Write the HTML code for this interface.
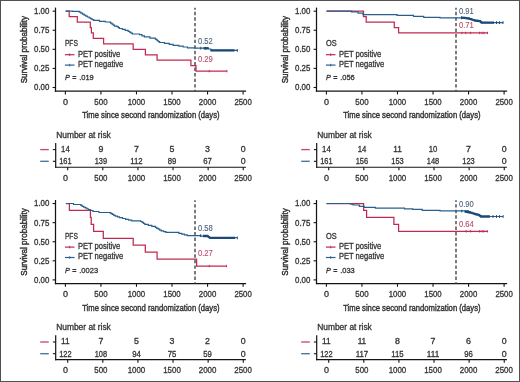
<!DOCTYPE html>
<html><head><meta charset="utf-8"><style>
html,body{margin:0;padding:0;background:#fff;}
svg{display:block;font-family:"Liberation Sans", sans-serif;}
text{stroke-width:0.3px;paint-order:stroke;}
</style></head><body>
<svg style="will-change:transform" width="520" height="382" viewBox="0 0 520 382">
<rect x="0" y="0" width="520" height="382" fill="#fff"/>
<g transform="translate(0,0)">
<line x1="55.5" y1="7.6" x2="55.5" y2="91.8" stroke="#141414" stroke-width="1.25"/>
<line x1="54.9" y1="91.2" x2="246.1" y2="91.2" stroke="#141414" stroke-width="1.25"/>
<line x1="52.6" y1="11.15" x2="55.5" y2="11.15" stroke="#141414" stroke-width="1.1"/>
<text x="49.4" y="14.05" font-size="8.4" fill="#333333" stroke="#333333" text-anchor="end" textLength="15.4" lengthAdjust="spacingAndGlyphs">1.00</text>
<line x1="52.6" y1="30.24" x2="55.5" y2="30.24" stroke="#141414" stroke-width="1.1"/>
<text x="49.4" y="33.14" font-size="8.4" fill="#333333" stroke="#333333" text-anchor="end" textLength="15.4" lengthAdjust="spacingAndGlyphs">0.75</text>
<line x1="52.6" y1="49.33" x2="55.5" y2="49.33" stroke="#141414" stroke-width="1.1"/>
<text x="49.4" y="52.23" font-size="8.4" fill="#333333" stroke="#333333" text-anchor="end" textLength="15.4" lengthAdjust="spacingAndGlyphs">0.50</text>
<line x1="52.6" y1="68.41" x2="55.5" y2="68.41" stroke="#141414" stroke-width="1.1"/>
<text x="49.4" y="71.31" font-size="8.4" fill="#333333" stroke="#333333" text-anchor="end" textLength="15.4" lengthAdjust="spacingAndGlyphs">0.25</text>
<line x1="52.6" y1="87.5" x2="55.5" y2="87.5" stroke="#141414" stroke-width="1.1"/>
<text x="49.4" y="90.4" font-size="8.4" fill="#333333" stroke="#333333" text-anchor="end" textLength="15.4" lengthAdjust="spacingAndGlyphs">0.00</text>
<line x1="65.4" y1="91.25" x2="65.4" y2="94.4" stroke="#141414" stroke-width="1.1"/>
<text x="65.4" y="104.6" font-size="8.6" fill="#333333" stroke="#333333" text-anchor="middle" textLength="5.0" lengthAdjust="spacingAndGlyphs">0</text>
<line x1="100.94" y1="91.25" x2="100.94" y2="94.4" stroke="#141414" stroke-width="1.1"/>
<text x="100.94" y="104.6" font-size="8.6" fill="#333333" stroke="#333333" text-anchor="middle" textLength="13.2" lengthAdjust="spacingAndGlyphs">500</text>
<line x1="136.48" y1="91.25" x2="136.48" y2="94.4" stroke="#141414" stroke-width="1.1"/>
<text x="136.48" y="104.6" font-size="8.6" fill="#333333" stroke="#333333" text-anchor="middle" textLength="17.4" lengthAdjust="spacingAndGlyphs">1000</text>
<line x1="172.02" y1="91.25" x2="172.02" y2="94.4" stroke="#141414" stroke-width="1.1"/>
<text x="172.02" y="104.6" font-size="8.6" fill="#333333" stroke="#333333" text-anchor="middle" textLength="17.4" lengthAdjust="spacingAndGlyphs">1500</text>
<line x1="207.56" y1="91.25" x2="207.56" y2="94.4" stroke="#141414" stroke-width="1.1"/>
<text x="207.56" y="104.6" font-size="8.6" fill="#333333" stroke="#333333" text-anchor="middle" textLength="17.4" lengthAdjust="spacingAndGlyphs">2000</text>
<line x1="243.1" y1="91.25" x2="243.1" y2="94.4" stroke="#141414" stroke-width="1.1"/>
<text x="243.1" y="104.6" font-size="8.6" fill="#333333" stroke="#333333" text-anchor="middle" textLength="17.4" lengthAdjust="spacingAndGlyphs">2500</text>
<text x="82.2" y="118.2" font-size="9.9" fill="#333333" stroke="#333333" textLength="137.4" lengthAdjust="spacingAndGlyphs" style="stroke-width:0.45px">Time since second randomization (days)</text>
<text transform="translate(27.3,83.3) rotate(-90)" font-size="9.9" fill="#333333" stroke="#333333" style="stroke-width:0.45px" textLength="67.4" lengthAdjust="spacingAndGlyphs">Survival probability</text>
<text x="64.9" y="46.2" font-size="8.3" fill="#333333" stroke="#333333" textLength="13.0" lengthAdjust="spacingAndGlyphs">PFS</text>
<line x1="64.9" y1="54.7" x2="74.5" y2="54.7" stroke="#c02a50" stroke-width="1.2"/>
<line x1="69.7" y1="53.4" x2="69.7" y2="56" stroke="#c02a50" stroke-width="0.9"/>
<text x="77.9" y="56.7" font-size="8.5" fill="#333333" stroke="#333333" textLength="42.4" lengthAdjust="spacingAndGlyphs">PET positive</text>
<line x1="64.9" y1="65.1" x2="74.5" y2="65.1" stroke="#27608f" stroke-width="1.2"/>
<line x1="69.7" y1="63.8" x2="69.7" y2="66.4" stroke="#27608f" stroke-width="0.9"/>
<text x="77.9" y="66.8" font-size="8.5" fill="#333333" stroke="#333333" textLength="45.3" lengthAdjust="spacingAndGlyphs">PET negative</text>
<text x="65.1" y="80.4" font-size="8.0" fill="#333333" stroke="#333333" font-style="italic" textLength="4.9" lengthAdjust="spacingAndGlyphs">P</text>
<text x="72.2" y="80.2" font-size="7.6" fill="#333333" stroke="#333333" textLength="4.2" lengthAdjust="spacingAndGlyphs">=</text>
<text x="79.2" y="80.4" font-size="8.1" fill="#333333" stroke="#333333" textLength="14.6" lengthAdjust="spacingAndGlyphs">.019</text>
<line x1="195" y1="7.8" x2="195" y2="91.2" stroke="#4a4a4a" stroke-width="1.45" stroke-dasharray="3.4 2.17" stroke-dashoffset="1.57"/>
<text x="198" y="44.2" font-size="8.4" fill="#4c627a" stroke="#4c627a" textLength="14.8" lengthAdjust="spacingAndGlyphs" style="stroke-width:0.1px">0.52</text>
<text x="198" y="62" font-size="8.4" fill="#b84a66" stroke="#b84a66" textLength="14.8" lengthAdjust="spacingAndGlyphs" style="stroke-width:0.1px">0.29</text>
</g>
<path d="M65.6,11.15L69.2,11.15L69.2,16.6L77.3,16.6L77.3,22.06L90.3,22.06L90.3,27.51L91.4,27.51L91.4,32.96L93.3,32.96L93.3,38.42L103.6,38.42L103.6,43.87L133.2,43.87L133.2,49.33L145.4,49.33L145.4,54.78L157.1,54.78L157.1,60.23L190.9,60.23L190.9,65.69L196,65.69L196,71.14L226.9,71.14" fill="none" stroke="#c02a50" stroke-width="1.25"/>
<path d="M65.6,11.15L72.6,11.15L72.6,11.4L79.3,11.4L79.3,12.2L80.9,12.2L80.9,13.17L82.5,13.17L82.5,14.13L84.1,14.13L84.1,15.1L85.77,15.1L85.77,16.05L87.45,16.05L87.45,17L89.12,17L89.12,17.95L90.8,17.95L90.8,18.9L92.25,18.9L92.25,19.65L93.7,19.65L93.7,20.4L99.5,20.4L99.5,21.3L105.3,21.3L105.3,22L109.3,22L109.3,22.2L110.62,22.2L110.62,23.18L111.95,23.18L111.95,24.15L113.27,24.15L113.27,25.12L114.6,25.12L114.6,26.1L117,26.1L117,26.7L118.2,26.7L118.2,27.6L119.4,27.6L119.4,28.5L122.3,28.5L122.3,29.43L125.2,29.43L125.2,30.37L128.1,30.37L128.1,31.3L129.53,31.3L129.53,32.2L130.97,32.2L130.97,33.1L132.4,33.1L132.4,34L139.6,34L139.6,34.7L142,34.7L142,35.8L144.4,35.8L144.4,36.9L150,36.9L150,38.2L155.3,38.2L155.3,39.1L156.38,39.1L156.38,39.95L157.45,39.95L157.45,40.8L158.53,40.8L158.53,41.65L159.6,41.65L159.6,42.5L164.4,42.5L164.4,43.45L169.2,43.45L169.2,44.4L173.1,44.4L173.1,45.4L178.8,45.4L178.8,46.2L183.15,46.2L183.15,47L187.5,47L187.5,47.8L194.2,47.8L194.2,48.1L208.5,48.1L208.5,48.3L208.5,49L210.9,49L210.9,50.3L237.3,50.3L237.3,50.4" fill="none" stroke="#27608f" stroke-width="1.2"/>
<path d="M203.5,48.3L208.5,48.3" fill="none" stroke="#1b4a78" stroke-width="2.3" stroke-linejoin="round"/>
<path d="M210.5,50.4L234.5,50.4" fill="none" stroke="#1b4a78" stroke-width="2.3" stroke-linejoin="round"/>
<line x1="209.2" y1="69.94" x2="209.2" y2="72.34" stroke="#c02a50" stroke-width="0.9"/>
<line x1="226.9" y1="69.94" x2="226.9" y2="72.34" stroke="#c02a50" stroke-width="0.9"/>
<line x1="200.8" y1="46.8" x2="200.8" y2="49.6" stroke="#1b4a78" stroke-width="1.0"/>
<line x1="205.6" y1="46.9" x2="205.6" y2="49.7" stroke="#1b4a78" stroke-width="1.0"/>
<line x1="237.3" y1="49" x2="237.3" y2="51.8" stroke="#1b4a78" stroke-width="1.0"/>
<g transform="translate(0,0)">
<text x="56.2" y="137.5" font-size="8.6" fill="#333333" stroke="#333333" textLength="54.6" lengthAdjust="spacingAndGlyphs">Number at risk</text>
<line x1="55.7" y1="142.9" x2="55.7" y2="167.8" stroke="#141414" stroke-width="1.2"/>
<line x1="55.1" y1="167.25" x2="245.9" y2="167.25" stroke="#141414" stroke-width="1.2"/>
<line x1="52.9" y1="149.6" x2="55.7" y2="149.6" stroke="#141414" stroke-width="1.1"/>
<line x1="40.2" y1="149.6" x2="48.8" y2="149.6" stroke="#c02a50" stroke-width="1.35" stroke-opacity="0.85"/>
<line x1="52.9" y1="161.3" x2="55.7" y2="161.3" stroke="#141414" stroke-width="1.1"/>
<line x1="40.2" y1="161.3" x2="48.8" y2="161.3" stroke="#27608f" stroke-width="1.35" stroke-opacity="0.85"/>
<line x1="67.7" y1="167.25" x2="67.7" y2="170.3" stroke="#141414" stroke-width="1.1"/>
<text x="65.4" y="181" font-size="8.8" fill="#333333" stroke="#333333" text-anchor="middle" textLength="5.0" lengthAdjust="spacingAndGlyphs">0</text>
<text x="65.4" y="152" font-size="8.6" fill="#333333" stroke="#333333" text-anchor="middle" textLength="8.6" lengthAdjust="spacingAndGlyphs">14</text>
<text x="65.4" y="164.2" font-size="8.6" fill="#333333" stroke="#333333" text-anchor="middle" textLength="12.4" lengthAdjust="spacingAndGlyphs">161</text>
<line x1="102.81" y1="167.25" x2="102.81" y2="170.3" stroke="#141414" stroke-width="1.1"/>
<text x="100.94" y="181" font-size="8.8" fill="#333333" stroke="#333333" text-anchor="middle" textLength="13.2" lengthAdjust="spacingAndGlyphs">500</text>
<text x="100.94" y="152" font-size="8.6" fill="#333333" stroke="#333333" text-anchor="middle" textLength="4.9" lengthAdjust="spacingAndGlyphs">9</text>
<text x="100.94" y="164.2" font-size="8.6" fill="#333333" stroke="#333333" text-anchor="middle" textLength="12.4" lengthAdjust="spacingAndGlyphs">139</text>
<line x1="137.92" y1="167.25" x2="137.92" y2="170.3" stroke="#141414" stroke-width="1.1"/>
<text x="136.48" y="181" font-size="8.8" fill="#333333" stroke="#333333" text-anchor="middle" textLength="17.6" lengthAdjust="spacingAndGlyphs">1000</text>
<text x="136.48" y="152" font-size="8.6" fill="#333333" stroke="#333333" text-anchor="middle" textLength="4.9" lengthAdjust="spacingAndGlyphs">7</text>
<text x="136.48" y="164.2" font-size="8.6" fill="#333333" stroke="#333333" text-anchor="middle" textLength="12.4" lengthAdjust="spacingAndGlyphs">112</text>
<line x1="173.03" y1="167.25" x2="173.03" y2="170.3" stroke="#141414" stroke-width="1.1"/>
<text x="172.02" y="181" font-size="8.8" fill="#333333" stroke="#333333" text-anchor="middle" textLength="17.6" lengthAdjust="spacingAndGlyphs">1500</text>
<text x="172.02" y="152" font-size="8.6" fill="#333333" stroke="#333333" text-anchor="middle" textLength="4.9" lengthAdjust="spacingAndGlyphs">5</text>
<text x="172.02" y="164.2" font-size="8.6" fill="#333333" stroke="#333333" text-anchor="middle" textLength="8.6" lengthAdjust="spacingAndGlyphs">89</text>
<line x1="208.14" y1="167.25" x2="208.14" y2="170.3" stroke="#141414" stroke-width="1.1"/>
<text x="207.56" y="181" font-size="8.8" fill="#333333" stroke="#333333" text-anchor="middle" textLength="17.6" lengthAdjust="spacingAndGlyphs">2000</text>
<text x="207.56" y="152" font-size="8.6" fill="#333333" stroke="#333333" text-anchor="middle" textLength="4.9" lengthAdjust="spacingAndGlyphs">3</text>
<text x="207.56" y="164.2" font-size="8.6" fill="#333333" stroke="#333333" text-anchor="middle" textLength="8.6" lengthAdjust="spacingAndGlyphs">67</text>
<line x1="243.25" y1="167.25" x2="243.25" y2="170.3" stroke="#141414" stroke-width="1.1"/>
<text x="243.1" y="181" font-size="8.8" fill="#333333" stroke="#333333" text-anchor="middle" textLength="17.6" lengthAdjust="spacingAndGlyphs">2500</text>
<text x="243.1" y="152" font-size="8.6" fill="#333333" stroke="#333333" text-anchor="middle" textLength="4.9" lengthAdjust="spacingAndGlyphs">0</text>
<text x="243.1" y="164.2" font-size="8.6" fill="#333333" stroke="#333333" text-anchor="middle" textLength="4.9" lengthAdjust="spacingAndGlyphs">0</text>
</g>
<g transform="translate(261,0)">
<line x1="55.5" y1="7.6" x2="55.5" y2="91.8" stroke="#141414" stroke-width="1.25"/>
<line x1="54.9" y1="91.2" x2="246.1" y2="91.2" stroke="#141414" stroke-width="1.25"/>
<line x1="52.6" y1="11.15" x2="55.5" y2="11.15" stroke="#141414" stroke-width="1.1"/>
<text x="49.4" y="14.05" font-size="8.4" fill="#333333" stroke="#333333" text-anchor="end" textLength="15.4" lengthAdjust="spacingAndGlyphs">1.00</text>
<line x1="52.6" y1="30.24" x2="55.5" y2="30.24" stroke="#141414" stroke-width="1.1"/>
<text x="49.4" y="33.14" font-size="8.4" fill="#333333" stroke="#333333" text-anchor="end" textLength="15.4" lengthAdjust="spacingAndGlyphs">0.75</text>
<line x1="52.6" y1="49.33" x2="55.5" y2="49.33" stroke="#141414" stroke-width="1.1"/>
<text x="49.4" y="52.23" font-size="8.4" fill="#333333" stroke="#333333" text-anchor="end" textLength="15.4" lengthAdjust="spacingAndGlyphs">0.50</text>
<line x1="52.6" y1="68.41" x2="55.5" y2="68.41" stroke="#141414" stroke-width="1.1"/>
<text x="49.4" y="71.31" font-size="8.4" fill="#333333" stroke="#333333" text-anchor="end" textLength="15.4" lengthAdjust="spacingAndGlyphs">0.25</text>
<line x1="52.6" y1="87.5" x2="55.5" y2="87.5" stroke="#141414" stroke-width="1.1"/>
<text x="49.4" y="90.4" font-size="8.4" fill="#333333" stroke="#333333" text-anchor="end" textLength="15.4" lengthAdjust="spacingAndGlyphs">0.00</text>
<line x1="65.4" y1="91.25" x2="65.4" y2="94.4" stroke="#141414" stroke-width="1.1"/>
<text x="65.4" y="104.6" font-size="8.6" fill="#333333" stroke="#333333" text-anchor="middle" textLength="5.0" lengthAdjust="spacingAndGlyphs">0</text>
<line x1="100.94" y1="91.25" x2="100.94" y2="94.4" stroke="#141414" stroke-width="1.1"/>
<text x="100.94" y="104.6" font-size="8.6" fill="#333333" stroke="#333333" text-anchor="middle" textLength="13.2" lengthAdjust="spacingAndGlyphs">500</text>
<line x1="136.48" y1="91.25" x2="136.48" y2="94.4" stroke="#141414" stroke-width="1.1"/>
<text x="136.48" y="104.6" font-size="8.6" fill="#333333" stroke="#333333" text-anchor="middle" textLength="17.4" lengthAdjust="spacingAndGlyphs">1000</text>
<line x1="172.02" y1="91.25" x2="172.02" y2="94.4" stroke="#141414" stroke-width="1.1"/>
<text x="172.02" y="104.6" font-size="8.6" fill="#333333" stroke="#333333" text-anchor="middle" textLength="17.4" lengthAdjust="spacingAndGlyphs">1500</text>
<line x1="207.56" y1="91.25" x2="207.56" y2="94.4" stroke="#141414" stroke-width="1.1"/>
<text x="207.56" y="104.6" font-size="8.6" fill="#333333" stroke="#333333" text-anchor="middle" textLength="17.4" lengthAdjust="spacingAndGlyphs">2000</text>
<line x1="243.1" y1="91.25" x2="243.1" y2="94.4" stroke="#141414" stroke-width="1.1"/>
<text x="243.1" y="104.6" font-size="8.6" fill="#333333" stroke="#333333" text-anchor="middle" textLength="17.4" lengthAdjust="spacingAndGlyphs">2500</text>
<text x="82.2" y="118.2" font-size="9.9" fill="#333333" stroke="#333333" textLength="137.4" lengthAdjust="spacingAndGlyphs" style="stroke-width:0.45px">Time since second randomization (days)</text>
<text transform="translate(27.3,83.3) rotate(-90)" font-size="9.9" fill="#333333" stroke="#333333" style="stroke-width:0.45px" textLength="67.4" lengthAdjust="spacingAndGlyphs">Survival probability</text>
<text x="64.9" y="46.2" font-size="8.3" fill="#333333" stroke="#333333" textLength="10.7" lengthAdjust="spacingAndGlyphs">OS</text>
<line x1="64.9" y1="54.7" x2="74.5" y2="54.7" stroke="#c02a50" stroke-width="1.2"/>
<line x1="69.7" y1="53.4" x2="69.7" y2="56" stroke="#c02a50" stroke-width="0.9"/>
<text x="77.9" y="56.7" font-size="8.5" fill="#333333" stroke="#333333" textLength="42.4" lengthAdjust="spacingAndGlyphs">PET positive</text>
<line x1="64.9" y1="65.1" x2="74.5" y2="65.1" stroke="#27608f" stroke-width="1.2"/>
<line x1="69.7" y1="63.8" x2="69.7" y2="66.4" stroke="#27608f" stroke-width="0.9"/>
<text x="77.9" y="66.8" font-size="8.5" fill="#333333" stroke="#333333" textLength="45.3" lengthAdjust="spacingAndGlyphs">PET negative</text>
<text x="65.1" y="80.4" font-size="8.0" fill="#333333" stroke="#333333" font-style="italic" textLength="4.9" lengthAdjust="spacingAndGlyphs">P</text>
<text x="72.2" y="80.2" font-size="7.6" fill="#333333" stroke="#333333" textLength="4.2" lengthAdjust="spacingAndGlyphs">=</text>
<text x="79.2" y="80.4" font-size="8.1" fill="#333333" stroke="#333333" textLength="14.6" lengthAdjust="spacingAndGlyphs">.056</text>
<line x1="195" y1="7.8" x2="195" y2="91.2" stroke="#4a4a4a" stroke-width="1.45" stroke-dasharray="3.4 2.17" stroke-dashoffset="1.57"/>
<text x="198" y="13.8" font-size="8.4" fill="#4c627a" stroke="#4c627a" textLength="14.8" lengthAdjust="spacingAndGlyphs" style="stroke-width:0.1px">0.91</text>
<text x="198" y="28.4" font-size="8.4" fill="#b84a66" stroke="#b84a66" textLength="14.8" lengthAdjust="spacingAndGlyphs" style="stroke-width:0.1px">0.71</text>
</g>
<path d="M326.5,11.15L363.5,11.15L363.5,16.6L366.2,16.6L366.2,22.06L394.3,22.06L394.3,27.51L398.6,27.51L398.6,32.96L487.9,32.96" fill="none" stroke="#c02a50" stroke-width="1.25"/>
<path d="M326.5,11.15L351.5,11.15L351.5,11.9L358,11.9L358,13.1L363,13.1L363,14.6L397.1,14.6L397.1,15.4L413.5,15.4L413.5,16.3L422,16.3L423.7,16.3L423.7,17.4L439,17.4L440,17.4L440,17.8L464.1,17.8L469.4,17.8L469.4,18.7L471.8,18.7L471.8,19.65L474.2,19.65L474.2,20.6L480,20.6L480,21.3L480.95,21.3L480.95,22L481.9,22L481.9,22.7L503,22.7" fill="none" stroke="#27608f" stroke-width="1.2"/>
<path d="M461,17.6L465,17.9L470,19L475,20.5L480,21.2L481.5,22.6L494,22.6" fill="none" stroke="#1b4a78" stroke-width="2.3" stroke-linejoin="round"/>
<line x1="461.9" y1="31.76" x2="461.9" y2="34.16" stroke="#c02a50" stroke-width="0.9"/>
<line x1="465.8" y1="31.76" x2="465.8" y2="34.16" stroke="#c02a50" stroke-width="0.9"/>
<line x1="470.6" y1="31.76" x2="470.6" y2="34.16" stroke="#c02a50" stroke-width="0.9"/>
<line x1="479.6" y1="31.76" x2="479.6" y2="34.16" stroke="#c02a50" stroke-width="0.9"/>
<line x1="482" y1="31.76" x2="482" y2="34.16" stroke="#c02a50" stroke-width="0.9"/>
<line x1="484" y1="31.76" x2="484" y2="34.16" stroke="#c02a50" stroke-width="0.9"/>
<line x1="487.5" y1="31.76" x2="487.5" y2="34.16" stroke="#c02a50" stroke-width="0.9"/>
<line x1="461.5" y1="16.4" x2="461.5" y2="19.2" stroke="#1b4a78" stroke-width="1.0"/>
<line x1="496.5" y1="21.2" x2="496.5" y2="24" stroke="#1b4a78" stroke-width="1.0"/>
<line x1="499.5" y1="21.2" x2="499.5" y2="24" stroke="#1b4a78" stroke-width="1.0"/>
<line x1="503" y1="21.2" x2="503" y2="24" stroke="#1b4a78" stroke-width="1.0"/>
<g transform="translate(261,0)">
<text x="56.2" y="137.5" font-size="8.6" fill="#333333" stroke="#333333" textLength="54.6" lengthAdjust="spacingAndGlyphs">Number at risk</text>
<line x1="55.7" y1="142.9" x2="55.7" y2="167.8" stroke="#141414" stroke-width="1.2"/>
<line x1="55.1" y1="167.25" x2="245.9" y2="167.25" stroke="#141414" stroke-width="1.2"/>
<line x1="52.9" y1="149.6" x2="55.7" y2="149.6" stroke="#141414" stroke-width="1.1"/>
<line x1="40.2" y1="149.6" x2="48.8" y2="149.6" stroke="#c02a50" stroke-width="1.35" stroke-opacity="0.85"/>
<line x1="52.9" y1="161.3" x2="55.7" y2="161.3" stroke="#141414" stroke-width="1.1"/>
<line x1="40.2" y1="161.3" x2="48.8" y2="161.3" stroke="#27608f" stroke-width="1.35" stroke-opacity="0.85"/>
<line x1="67.7" y1="167.25" x2="67.7" y2="170.3" stroke="#141414" stroke-width="1.1"/>
<text x="65.4" y="181" font-size="8.8" fill="#333333" stroke="#333333" text-anchor="middle" textLength="5.0" lengthAdjust="spacingAndGlyphs">0</text>
<text x="65.4" y="152" font-size="8.6" fill="#333333" stroke="#333333" text-anchor="middle" textLength="8.6" lengthAdjust="spacingAndGlyphs">14</text>
<text x="65.4" y="164.2" font-size="8.6" fill="#333333" stroke="#333333" text-anchor="middle" textLength="12.4" lengthAdjust="spacingAndGlyphs">161</text>
<line x1="102.81" y1="167.25" x2="102.81" y2="170.3" stroke="#141414" stroke-width="1.1"/>
<text x="100.94" y="181" font-size="8.8" fill="#333333" stroke="#333333" text-anchor="middle" textLength="13.2" lengthAdjust="spacingAndGlyphs">500</text>
<text x="100.94" y="152" font-size="8.6" fill="#333333" stroke="#333333" text-anchor="middle" textLength="8.6" lengthAdjust="spacingAndGlyphs">14</text>
<text x="100.94" y="164.2" font-size="8.6" fill="#333333" stroke="#333333" text-anchor="middle" textLength="12.4" lengthAdjust="spacingAndGlyphs">156</text>
<line x1="137.92" y1="167.25" x2="137.92" y2="170.3" stroke="#141414" stroke-width="1.1"/>
<text x="136.48" y="181" font-size="8.8" fill="#333333" stroke="#333333" text-anchor="middle" textLength="17.6" lengthAdjust="spacingAndGlyphs">1000</text>
<text x="136.48" y="152" font-size="8.6" fill="#333333" stroke="#333333" text-anchor="middle" textLength="8.6" lengthAdjust="spacingAndGlyphs">11</text>
<text x="136.48" y="164.2" font-size="8.6" fill="#333333" stroke="#333333" text-anchor="middle" textLength="12.4" lengthAdjust="spacingAndGlyphs">153</text>
<line x1="173.03" y1="167.25" x2="173.03" y2="170.3" stroke="#141414" stroke-width="1.1"/>
<text x="172.02" y="181" font-size="8.8" fill="#333333" stroke="#333333" text-anchor="middle" textLength="17.6" lengthAdjust="spacingAndGlyphs">1500</text>
<text x="172.02" y="152" font-size="8.6" fill="#333333" stroke="#333333" text-anchor="middle" textLength="8.6" lengthAdjust="spacingAndGlyphs">10</text>
<text x="172.02" y="164.2" font-size="8.6" fill="#333333" stroke="#333333" text-anchor="middle" textLength="12.4" lengthAdjust="spacingAndGlyphs">148</text>
<line x1="208.14" y1="167.25" x2="208.14" y2="170.3" stroke="#141414" stroke-width="1.1"/>
<text x="207.56" y="181" font-size="8.8" fill="#333333" stroke="#333333" text-anchor="middle" textLength="17.6" lengthAdjust="spacingAndGlyphs">2000</text>
<text x="207.56" y="152" font-size="8.6" fill="#333333" stroke="#333333" text-anchor="middle" textLength="4.9" lengthAdjust="spacingAndGlyphs">7</text>
<text x="207.56" y="164.2" font-size="8.6" fill="#333333" stroke="#333333" text-anchor="middle" textLength="12.4" lengthAdjust="spacingAndGlyphs">123</text>
<line x1="243.25" y1="167.25" x2="243.25" y2="170.3" stroke="#141414" stroke-width="1.1"/>
<text x="243.1" y="181" font-size="8.8" fill="#333333" stroke="#333333" text-anchor="middle" textLength="17.6" lengthAdjust="spacingAndGlyphs">2500</text>
<text x="243.1" y="152" font-size="8.6" fill="#333333" stroke="#333333" text-anchor="middle" textLength="4.9" lengthAdjust="spacingAndGlyphs">0</text>
<text x="243.1" y="164.2" font-size="8.6" fill="#333333" stroke="#333333" text-anchor="middle" textLength="4.9" lengthAdjust="spacingAndGlyphs">0</text>
</g>
<g transform="translate(0,192.4)">
<line x1="55.5" y1="7.6" x2="55.5" y2="91.8" stroke="#141414" stroke-width="1.25"/>
<line x1="54.9" y1="91.2" x2="246.1" y2="91.2" stroke="#141414" stroke-width="1.25"/>
<line x1="52.6" y1="11.15" x2="55.5" y2="11.15" stroke="#141414" stroke-width="1.1"/>
<text x="49.4" y="14.05" font-size="8.4" fill="#333333" stroke="#333333" text-anchor="end" textLength="15.4" lengthAdjust="spacingAndGlyphs">1.00</text>
<line x1="52.6" y1="30.24" x2="55.5" y2="30.24" stroke="#141414" stroke-width="1.1"/>
<text x="49.4" y="33.14" font-size="8.4" fill="#333333" stroke="#333333" text-anchor="end" textLength="15.4" lengthAdjust="spacingAndGlyphs">0.75</text>
<line x1="52.6" y1="49.33" x2="55.5" y2="49.33" stroke="#141414" stroke-width="1.1"/>
<text x="49.4" y="52.23" font-size="8.4" fill="#333333" stroke="#333333" text-anchor="end" textLength="15.4" lengthAdjust="spacingAndGlyphs">0.50</text>
<line x1="52.6" y1="68.41" x2="55.5" y2="68.41" stroke="#141414" stroke-width="1.1"/>
<text x="49.4" y="71.31" font-size="8.4" fill="#333333" stroke="#333333" text-anchor="end" textLength="15.4" lengthAdjust="spacingAndGlyphs">0.25</text>
<line x1="52.6" y1="87.5" x2="55.5" y2="87.5" stroke="#141414" stroke-width="1.1"/>
<text x="49.4" y="90.4" font-size="8.4" fill="#333333" stroke="#333333" text-anchor="end" textLength="15.4" lengthAdjust="spacingAndGlyphs">0.00</text>
<line x1="65.4" y1="91.25" x2="65.4" y2="94.4" stroke="#141414" stroke-width="1.1"/>
<text x="65.4" y="104.6" font-size="8.6" fill="#333333" stroke="#333333" text-anchor="middle" textLength="5.0" lengthAdjust="spacingAndGlyphs">0</text>
<line x1="100.94" y1="91.25" x2="100.94" y2="94.4" stroke="#141414" stroke-width="1.1"/>
<text x="100.94" y="104.6" font-size="8.6" fill="#333333" stroke="#333333" text-anchor="middle" textLength="13.2" lengthAdjust="spacingAndGlyphs">500</text>
<line x1="136.48" y1="91.25" x2="136.48" y2="94.4" stroke="#141414" stroke-width="1.1"/>
<text x="136.48" y="104.6" font-size="8.6" fill="#333333" stroke="#333333" text-anchor="middle" textLength="17.4" lengthAdjust="spacingAndGlyphs">1000</text>
<line x1="172.02" y1="91.25" x2="172.02" y2="94.4" stroke="#141414" stroke-width="1.1"/>
<text x="172.02" y="104.6" font-size="8.6" fill="#333333" stroke="#333333" text-anchor="middle" textLength="17.4" lengthAdjust="spacingAndGlyphs">1500</text>
<line x1="207.56" y1="91.25" x2="207.56" y2="94.4" stroke="#141414" stroke-width="1.1"/>
<text x="207.56" y="104.6" font-size="8.6" fill="#333333" stroke="#333333" text-anchor="middle" textLength="17.4" lengthAdjust="spacingAndGlyphs">2000</text>
<line x1="243.1" y1="91.25" x2="243.1" y2="94.4" stroke="#141414" stroke-width="1.1"/>
<text x="243.1" y="104.6" font-size="8.6" fill="#333333" stroke="#333333" text-anchor="middle" textLength="17.4" lengthAdjust="spacingAndGlyphs">2500</text>
<text x="82.2" y="118.2" font-size="9.9" fill="#333333" stroke="#333333" textLength="137.4" lengthAdjust="spacingAndGlyphs" style="stroke-width:0.45px">Time since second randomization (days)</text>
<text transform="translate(27.3,83.3) rotate(-90)" font-size="9.9" fill="#333333" stroke="#333333" style="stroke-width:0.45px" textLength="67.4" lengthAdjust="spacingAndGlyphs">Survival probability</text>
<text x="64.9" y="46.2" font-size="8.3" fill="#333333" stroke="#333333" textLength="13.0" lengthAdjust="spacingAndGlyphs">PFS</text>
<line x1="64.9" y1="54.7" x2="74.5" y2="54.7" stroke="#c02a50" stroke-width="1.2"/>
<line x1="69.7" y1="53.4" x2="69.7" y2="56" stroke="#c02a50" stroke-width="0.9"/>
<text x="77.9" y="56.7" font-size="8.5" fill="#333333" stroke="#333333" textLength="42.4" lengthAdjust="spacingAndGlyphs">PET positive</text>
<line x1="64.9" y1="65.1" x2="74.5" y2="65.1" stroke="#27608f" stroke-width="1.2"/>
<line x1="69.7" y1="63.8" x2="69.7" y2="66.4" stroke="#27608f" stroke-width="0.9"/>
<text x="77.9" y="66.8" font-size="8.5" fill="#333333" stroke="#333333" textLength="45.3" lengthAdjust="spacingAndGlyphs">PET negative</text>
<text x="65.1" y="80.4" font-size="8.0" fill="#333333" stroke="#333333" font-style="italic" textLength="4.9" lengthAdjust="spacingAndGlyphs">P</text>
<text x="72.2" y="80.2" font-size="7.6" fill="#333333" stroke="#333333" textLength="4.2" lengthAdjust="spacingAndGlyphs">=</text>
<text x="79.2" y="80.4" font-size="8.1" fill="#333333" stroke="#333333" textLength="18.9" lengthAdjust="spacingAndGlyphs">.0023</text>
<line x1="195" y1="7.8" x2="195" y2="91.2" stroke="#4a4a4a" stroke-width="1.45" stroke-dasharray="3.4 2.17" stroke-dashoffset="1.57"/>
<text x="198" y="38.5" font-size="8.4" fill="#4c627a" stroke="#4c627a" textLength="14.8" lengthAdjust="spacingAndGlyphs" style="stroke-width:0.1px">0.58</text>
<text x="198" y="63.2" font-size="8.4" fill="#b84a66" stroke="#b84a66" textLength="14.8" lengthAdjust="spacingAndGlyphs" style="stroke-width:0.1px">0.27</text>
</g>
<path d="M65.9,203.55L69.4,203.55L69.4,210.49L90.4,210.49L90.4,217.43L91.2,217.43L91.2,224.37L93.6,224.37L93.6,231.31L103.3,231.31L103.3,238.25L133.2,238.25L133.2,245.2L145.3,245.2L145.3,252.14L157.1,252.14L157.1,259.08L196.6,259.08L196.6,266.02L226.5,266.02" fill="none" stroke="#c02a50" stroke-width="1.25"/>
<path d="M65.9,203.5L73,203.5L73.5,203.5L73.5,204.5L79.5,204.5L80.87,204.5L80.87,205.4L82.23,205.4L82.23,206.3L83.6,206.3L83.6,207.2L85.17,207.2L85.17,207.97L86.73,207.97L86.73,208.73L88.3,208.73L88.3,209.5L90.65,209.5L90.65,210.5L93,210.5L93,211.5L98.9,211.5L98.9,212.5L109.4,212.5L109.4,212.7L110.88,212.7L110.88,213.57L112.35,213.57L112.35,214.45L113.83,214.45L113.83,215.32L115.3,215.32L115.3,216.2L117.4,216.2L117.4,216.95L119.5,216.95L119.5,217.7L122.58,217.7L122.58,218.5L125.65,218.5L125.65,219.3L128.73,219.3L128.73,220.1L131.8,220.1L131.8,220.9L140.7,220.9L140.7,221.5L142.07,221.5L142.07,222.47L143.43,222.47L143.43,223.43L144.8,223.43L144.8,224.4L148.3,224.4L148.3,225.4L151.8,225.4L151.8,226.4L155.3,226.4L155.3,227.4L156.78,227.4L156.78,228.28L158.25,228.28L158.25,229.15L159.72,229.15L159.72,230.03L161.2,230.03L161.2,230.9L163.55,230.9L163.55,231.65L165.9,231.65L165.9,232.4L178.9,232.4L178.9,233.3L181.67,233.3L181.67,234.07L184.43,234.07L184.43,234.83L187.2,234.83L187.2,235.6L200.3,235.6L200.5,235.6L200.5,236.2L207,236.2L208.1,236.2L208.1,236.95L209.2,236.95L209.2,237.7L236.9,237.7" fill="none" stroke="#27608f" stroke-width="1.2"/>
<path d="M203,236L207.8,236L210,237.9L235,237.9" fill="none" stroke="#1b4a78" stroke-width="2.3" stroke-linejoin="round"/>
<line x1="209.3" y1="264.82" x2="209.3" y2="267.22" stroke="#c02a50" stroke-width="0.9"/>
<line x1="226.5" y1="264.82" x2="226.5" y2="267.22" stroke="#c02a50" stroke-width="0.9"/>
<line x1="200.7" y1="234.2" x2="200.7" y2="237" stroke="#1b4a78" stroke-width="1.0"/>
<line x1="237.3" y1="236.5" x2="237.3" y2="239.3" stroke="#1b4a78" stroke-width="1.0"/>
<g transform="translate(0,192.4)">
<text x="56.2" y="137.5" font-size="8.6" fill="#333333" stroke="#333333" textLength="54.6" lengthAdjust="spacingAndGlyphs">Number at risk</text>
<line x1="55.7" y1="142.9" x2="55.7" y2="167.8" stroke="#141414" stroke-width="1.2"/>
<line x1="55.1" y1="167.25" x2="245.9" y2="167.25" stroke="#141414" stroke-width="1.2"/>
<line x1="52.9" y1="149.6" x2="55.7" y2="149.6" stroke="#141414" stroke-width="1.1"/>
<line x1="40.2" y1="149.6" x2="48.8" y2="149.6" stroke="#c02a50" stroke-width="1.35" stroke-opacity="0.85"/>
<line x1="52.9" y1="161.3" x2="55.7" y2="161.3" stroke="#141414" stroke-width="1.1"/>
<line x1="40.2" y1="161.3" x2="48.8" y2="161.3" stroke="#27608f" stroke-width="1.35" stroke-opacity="0.85"/>
<line x1="67.7" y1="167.25" x2="67.7" y2="170.3" stroke="#141414" stroke-width="1.1"/>
<text x="65.4" y="181" font-size="8.8" fill="#333333" stroke="#333333" text-anchor="middle" textLength="5.0" lengthAdjust="spacingAndGlyphs">0</text>
<text x="65.4" y="152" font-size="8.6" fill="#333333" stroke="#333333" text-anchor="middle" textLength="8.6" lengthAdjust="spacingAndGlyphs">11</text>
<text x="65.4" y="164.2" font-size="8.6" fill="#333333" stroke="#333333" text-anchor="middle" textLength="12.4" lengthAdjust="spacingAndGlyphs">122</text>
<line x1="102.81" y1="167.25" x2="102.81" y2="170.3" stroke="#141414" stroke-width="1.1"/>
<text x="100.94" y="181" font-size="8.8" fill="#333333" stroke="#333333" text-anchor="middle" textLength="13.2" lengthAdjust="spacingAndGlyphs">500</text>
<text x="100.94" y="152" font-size="8.6" fill="#333333" stroke="#333333" text-anchor="middle" textLength="4.9" lengthAdjust="spacingAndGlyphs">7</text>
<text x="100.94" y="164.2" font-size="8.6" fill="#333333" stroke="#333333" text-anchor="middle" textLength="12.4" lengthAdjust="spacingAndGlyphs">108</text>
<line x1="137.92" y1="167.25" x2="137.92" y2="170.3" stroke="#141414" stroke-width="1.1"/>
<text x="136.48" y="181" font-size="8.8" fill="#333333" stroke="#333333" text-anchor="middle" textLength="17.6" lengthAdjust="spacingAndGlyphs">1000</text>
<text x="136.48" y="152" font-size="8.6" fill="#333333" stroke="#333333" text-anchor="middle" textLength="4.9" lengthAdjust="spacingAndGlyphs">5</text>
<text x="136.48" y="164.2" font-size="8.6" fill="#333333" stroke="#333333" text-anchor="middle" textLength="8.6" lengthAdjust="spacingAndGlyphs">94</text>
<line x1="173.03" y1="167.25" x2="173.03" y2="170.3" stroke="#141414" stroke-width="1.1"/>
<text x="172.02" y="181" font-size="8.8" fill="#333333" stroke="#333333" text-anchor="middle" textLength="17.6" lengthAdjust="spacingAndGlyphs">1500</text>
<text x="172.02" y="152" font-size="8.6" fill="#333333" stroke="#333333" text-anchor="middle" textLength="4.9" lengthAdjust="spacingAndGlyphs">3</text>
<text x="172.02" y="164.2" font-size="8.6" fill="#333333" stroke="#333333" text-anchor="middle" textLength="8.6" lengthAdjust="spacingAndGlyphs">75</text>
<line x1="208.14" y1="167.25" x2="208.14" y2="170.3" stroke="#141414" stroke-width="1.1"/>
<text x="207.56" y="181" font-size="8.8" fill="#333333" stroke="#333333" text-anchor="middle" textLength="17.6" lengthAdjust="spacingAndGlyphs">2000</text>
<text x="207.56" y="152" font-size="8.6" fill="#333333" stroke="#333333" text-anchor="middle" textLength="4.9" lengthAdjust="spacingAndGlyphs">2</text>
<text x="207.56" y="164.2" font-size="8.6" fill="#333333" stroke="#333333" text-anchor="middle" textLength="8.6" lengthAdjust="spacingAndGlyphs">59</text>
<line x1="243.25" y1="167.25" x2="243.25" y2="170.3" stroke="#141414" stroke-width="1.1"/>
<text x="243.1" y="181" font-size="8.8" fill="#333333" stroke="#333333" text-anchor="middle" textLength="17.6" lengthAdjust="spacingAndGlyphs">2500</text>
<text x="243.1" y="152" font-size="8.6" fill="#333333" stroke="#333333" text-anchor="middle" textLength="4.9" lengthAdjust="spacingAndGlyphs">0</text>
<text x="243.1" y="164.2" font-size="8.6" fill="#333333" stroke="#333333" text-anchor="middle" textLength="4.9" lengthAdjust="spacingAndGlyphs">0</text>
</g>
<g transform="translate(261,192.4)">
<line x1="55.5" y1="7.6" x2="55.5" y2="91.8" stroke="#141414" stroke-width="1.25"/>
<line x1="54.9" y1="91.2" x2="246.1" y2="91.2" stroke="#141414" stroke-width="1.25"/>
<line x1="52.6" y1="11.15" x2="55.5" y2="11.15" stroke="#141414" stroke-width="1.1"/>
<text x="49.4" y="14.05" font-size="8.4" fill="#333333" stroke="#333333" text-anchor="end" textLength="15.4" lengthAdjust="spacingAndGlyphs">1.00</text>
<line x1="52.6" y1="30.24" x2="55.5" y2="30.24" stroke="#141414" stroke-width="1.1"/>
<text x="49.4" y="33.14" font-size="8.4" fill="#333333" stroke="#333333" text-anchor="end" textLength="15.4" lengthAdjust="spacingAndGlyphs">0.75</text>
<line x1="52.6" y1="49.33" x2="55.5" y2="49.33" stroke="#141414" stroke-width="1.1"/>
<text x="49.4" y="52.23" font-size="8.4" fill="#333333" stroke="#333333" text-anchor="end" textLength="15.4" lengthAdjust="spacingAndGlyphs">0.50</text>
<line x1="52.6" y1="68.41" x2="55.5" y2="68.41" stroke="#141414" stroke-width="1.1"/>
<text x="49.4" y="71.31" font-size="8.4" fill="#333333" stroke="#333333" text-anchor="end" textLength="15.4" lengthAdjust="spacingAndGlyphs">0.25</text>
<line x1="52.6" y1="87.5" x2="55.5" y2="87.5" stroke="#141414" stroke-width="1.1"/>
<text x="49.4" y="90.4" font-size="8.4" fill="#333333" stroke="#333333" text-anchor="end" textLength="15.4" lengthAdjust="spacingAndGlyphs">0.00</text>
<line x1="65.4" y1="91.25" x2="65.4" y2="94.4" stroke="#141414" stroke-width="1.1"/>
<text x="65.4" y="104.6" font-size="8.6" fill="#333333" stroke="#333333" text-anchor="middle" textLength="5.0" lengthAdjust="spacingAndGlyphs">0</text>
<line x1="100.94" y1="91.25" x2="100.94" y2="94.4" stroke="#141414" stroke-width="1.1"/>
<text x="100.94" y="104.6" font-size="8.6" fill="#333333" stroke="#333333" text-anchor="middle" textLength="13.2" lengthAdjust="spacingAndGlyphs">500</text>
<line x1="136.48" y1="91.25" x2="136.48" y2="94.4" stroke="#141414" stroke-width="1.1"/>
<text x="136.48" y="104.6" font-size="8.6" fill="#333333" stroke="#333333" text-anchor="middle" textLength="17.4" lengthAdjust="spacingAndGlyphs">1000</text>
<line x1="172.02" y1="91.25" x2="172.02" y2="94.4" stroke="#141414" stroke-width="1.1"/>
<text x="172.02" y="104.6" font-size="8.6" fill="#333333" stroke="#333333" text-anchor="middle" textLength="17.4" lengthAdjust="spacingAndGlyphs">1500</text>
<line x1="207.56" y1="91.25" x2="207.56" y2="94.4" stroke="#141414" stroke-width="1.1"/>
<text x="207.56" y="104.6" font-size="8.6" fill="#333333" stroke="#333333" text-anchor="middle" textLength="17.4" lengthAdjust="spacingAndGlyphs">2000</text>
<line x1="243.1" y1="91.25" x2="243.1" y2="94.4" stroke="#141414" stroke-width="1.1"/>
<text x="243.1" y="104.6" font-size="8.6" fill="#333333" stroke="#333333" text-anchor="middle" textLength="17.4" lengthAdjust="spacingAndGlyphs">2500</text>
<text x="82.2" y="118.2" font-size="9.9" fill="#333333" stroke="#333333" textLength="137.4" lengthAdjust="spacingAndGlyphs" style="stroke-width:0.45px">Time since second randomization (days)</text>
<text transform="translate(27.3,83.3) rotate(-90)" font-size="9.9" fill="#333333" stroke="#333333" style="stroke-width:0.45px" textLength="67.4" lengthAdjust="spacingAndGlyphs">Survival probability</text>
<text x="64.9" y="46.2" font-size="8.3" fill="#333333" stroke="#333333" textLength="10.7" lengthAdjust="spacingAndGlyphs">OS</text>
<line x1="64.9" y1="54.7" x2="74.5" y2="54.7" stroke="#c02a50" stroke-width="1.2"/>
<line x1="69.7" y1="53.4" x2="69.7" y2="56" stroke="#c02a50" stroke-width="0.9"/>
<text x="77.9" y="56.7" font-size="8.5" fill="#333333" stroke="#333333" textLength="42.4" lengthAdjust="spacingAndGlyphs">PET positive</text>
<line x1="64.9" y1="65.1" x2="74.5" y2="65.1" stroke="#27608f" stroke-width="1.2"/>
<line x1="69.7" y1="63.8" x2="69.7" y2="66.4" stroke="#27608f" stroke-width="0.9"/>
<text x="77.9" y="66.8" font-size="8.5" fill="#333333" stroke="#333333" textLength="45.3" lengthAdjust="spacingAndGlyphs">PET negative</text>
<text x="65.1" y="80.4" font-size="8.0" fill="#333333" stroke="#333333" font-style="italic" textLength="4.9" lengthAdjust="spacingAndGlyphs">P</text>
<text x="72.2" y="80.2" font-size="7.6" fill="#333333" stroke="#333333" textLength="4.2" lengthAdjust="spacingAndGlyphs">=</text>
<text x="79.2" y="80.4" font-size="8.1" fill="#333333" stroke="#333333" textLength="14.6" lengthAdjust="spacingAndGlyphs">.033</text>
<line x1="195" y1="7.8" x2="195" y2="91.2" stroke="#4a4a4a" stroke-width="1.45" stroke-dasharray="3.4 2.17" stroke-dashoffset="1.57"/>
<text x="198" y="14.6" font-size="8.4" fill="#4c627a" stroke="#4c627a" textLength="14.8" lengthAdjust="spacingAndGlyphs" style="stroke-width:0.1px">0.90</text>
<text x="198" y="34.6" font-size="8.4" fill="#b84a66" stroke="#b84a66" textLength="14.8" lengthAdjust="spacingAndGlyphs" style="stroke-width:0.1px">0.64</text>
</g>
<path d="M326.5,203.55L363.6,203.55L363.6,210.49L366.6,210.49L366.6,217.43L393.9,217.43L393.9,224.37L398.6,224.37L398.6,231.31L487.7,231.31" fill="none" stroke="#c02a50" stroke-width="1.25"/>
<path d="M326.5,203.5L348.3,203.5L350.65,203.5L350.65,204.25L353,204.25L353,205L358.9,205L359.2,205L359.2,205.7L359.5,205.7L359.5,206.4L363,206.4L364.2,206.4L364.2,207.4L373,207.4L375.4,207.4L375.4,208.1L404.5,208.1L404.5,208.9L412.7,208.9L412.7,209.4L422.2,209.4L422.2,210.3L439.2,210.3L439.2,210.4L440,210.4L440,210.8L462.3,210.8L468.5,210.8L468.5,211.6L470.4,211.6L470.4,212.4L472.3,212.4L472.3,213.2L474.25,213.2L474.25,213.95L476.2,213.95L476.2,214.7L478.5,214.7L478.5,215.6L480.8,215.6L480.8,216.5L503.1,216.5" fill="none" stroke="#27608f" stroke-width="1.2"/>
<path d="M464.5,211.4L470,212.5L475,214L479,214.8L481,216.5L490,216.5" fill="none" stroke="#1b4a78" stroke-width="2.3" stroke-linejoin="round"/>
<line x1="466.2" y1="230.11" x2="466.2" y2="232.51" stroke="#c02a50" stroke-width="0.9"/>
<line x1="470.6" y1="230.11" x2="470.6" y2="232.51" stroke="#c02a50" stroke-width="0.9"/>
<line x1="479.6" y1="230.11" x2="479.6" y2="232.51" stroke="#c02a50" stroke-width="0.9"/>
<line x1="481.9" y1="230.11" x2="481.9" y2="232.51" stroke="#c02a50" stroke-width="0.9"/>
<line x1="483.8" y1="230.11" x2="483.8" y2="232.51" stroke="#c02a50" stroke-width="0.9"/>
<line x1="487.4" y1="230.11" x2="487.4" y2="232.51" stroke="#c02a50" stroke-width="0.9"/>
<line x1="461.8" y1="209.7" x2="461.8" y2="212.5" stroke="#1b4a78" stroke-width="1.0"/>
<line x1="493" y1="215.1" x2="493" y2="217.9" stroke="#1b4a78" stroke-width="1.0"/>
<line x1="496.5" y1="215.1" x2="496.5" y2="217.9" stroke="#1b4a78" stroke-width="1.0"/>
<line x1="499.5" y1="215.1" x2="499.5" y2="217.9" stroke="#1b4a78" stroke-width="1.0"/>
<line x1="503.1" y1="215.1" x2="503.1" y2="217.9" stroke="#1b4a78" stroke-width="1.0"/>
<g transform="translate(261,192.4)">
<text x="56.2" y="137.5" font-size="8.6" fill="#333333" stroke="#333333" textLength="54.6" lengthAdjust="spacingAndGlyphs">Number at risk</text>
<line x1="55.7" y1="142.9" x2="55.7" y2="167.8" stroke="#141414" stroke-width="1.2"/>
<line x1="55.1" y1="167.25" x2="245.9" y2="167.25" stroke="#141414" stroke-width="1.2"/>
<line x1="52.9" y1="149.6" x2="55.7" y2="149.6" stroke="#141414" stroke-width="1.1"/>
<line x1="40.2" y1="149.6" x2="48.8" y2="149.6" stroke="#c02a50" stroke-width="1.35" stroke-opacity="0.85"/>
<line x1="52.9" y1="161.3" x2="55.7" y2="161.3" stroke="#141414" stroke-width="1.1"/>
<line x1="40.2" y1="161.3" x2="48.8" y2="161.3" stroke="#27608f" stroke-width="1.35" stroke-opacity="0.85"/>
<line x1="67.7" y1="167.25" x2="67.7" y2="170.3" stroke="#141414" stroke-width="1.1"/>
<text x="65.4" y="181" font-size="8.8" fill="#333333" stroke="#333333" text-anchor="middle" textLength="5.0" lengthAdjust="spacingAndGlyphs">0</text>
<text x="65.4" y="152" font-size="8.6" fill="#333333" stroke="#333333" text-anchor="middle" textLength="8.6" lengthAdjust="spacingAndGlyphs">11</text>
<text x="65.4" y="164.2" font-size="8.6" fill="#333333" stroke="#333333" text-anchor="middle" textLength="12.4" lengthAdjust="spacingAndGlyphs">122</text>
<line x1="102.81" y1="167.25" x2="102.81" y2="170.3" stroke="#141414" stroke-width="1.1"/>
<text x="100.94" y="181" font-size="8.8" fill="#333333" stroke="#333333" text-anchor="middle" textLength="13.2" lengthAdjust="spacingAndGlyphs">500</text>
<text x="100.94" y="152" font-size="8.6" fill="#333333" stroke="#333333" text-anchor="middle" textLength="8.6" lengthAdjust="spacingAndGlyphs">11</text>
<text x="100.94" y="164.2" font-size="8.6" fill="#333333" stroke="#333333" text-anchor="middle" textLength="12.4" lengthAdjust="spacingAndGlyphs">117</text>
<line x1="137.92" y1="167.25" x2="137.92" y2="170.3" stroke="#141414" stroke-width="1.1"/>
<text x="136.48" y="181" font-size="8.8" fill="#333333" stroke="#333333" text-anchor="middle" textLength="17.6" lengthAdjust="spacingAndGlyphs">1000</text>
<text x="136.48" y="152" font-size="8.6" fill="#333333" stroke="#333333" text-anchor="middle" textLength="4.9" lengthAdjust="spacingAndGlyphs">8</text>
<text x="136.48" y="164.2" font-size="8.6" fill="#333333" stroke="#333333" text-anchor="middle" textLength="12.4" lengthAdjust="spacingAndGlyphs">115</text>
<line x1="173.03" y1="167.25" x2="173.03" y2="170.3" stroke="#141414" stroke-width="1.1"/>
<text x="172.02" y="181" font-size="8.8" fill="#333333" stroke="#333333" text-anchor="middle" textLength="17.6" lengthAdjust="spacingAndGlyphs">1500</text>
<text x="172.02" y="152" font-size="8.6" fill="#333333" stroke="#333333" text-anchor="middle" textLength="4.9" lengthAdjust="spacingAndGlyphs">7</text>
<text x="172.02" y="164.2" font-size="8.6" fill="#333333" stroke="#333333" text-anchor="middle" textLength="12.4" lengthAdjust="spacingAndGlyphs">111</text>
<line x1="208.14" y1="167.25" x2="208.14" y2="170.3" stroke="#141414" stroke-width="1.1"/>
<text x="207.56" y="181" font-size="8.8" fill="#333333" stroke="#333333" text-anchor="middle" textLength="17.6" lengthAdjust="spacingAndGlyphs">2000</text>
<text x="207.56" y="152" font-size="8.6" fill="#333333" stroke="#333333" text-anchor="middle" textLength="4.9" lengthAdjust="spacingAndGlyphs">6</text>
<text x="207.56" y="164.2" font-size="8.6" fill="#333333" stroke="#333333" text-anchor="middle" textLength="8.6" lengthAdjust="spacingAndGlyphs">96</text>
<line x1="243.25" y1="167.25" x2="243.25" y2="170.3" stroke="#141414" stroke-width="1.1"/>
<text x="243.1" y="181" font-size="8.8" fill="#333333" stroke="#333333" text-anchor="middle" textLength="17.6" lengthAdjust="spacingAndGlyphs">2500</text>
<text x="243.1" y="152" font-size="8.6" fill="#333333" stroke="#333333" text-anchor="middle" textLength="4.9" lengthAdjust="spacingAndGlyphs">0</text>
<text x="243.1" y="164.2" font-size="8.6" fill="#333333" stroke="#333333" text-anchor="middle" textLength="4.9" lengthAdjust="spacingAndGlyphs">0</text>
</g>
<rect x="0" y="0" width="520" height="1" fill="#525252"/>
<rect x="0" y="381" width="520" height="1" fill="#525252"/>
<rect x="0" y="0" width="1" height="382" fill="#505050"/>
<rect x="519" y="0" width="1" height="382" fill="#525252"/>
</svg>
</body></html>
